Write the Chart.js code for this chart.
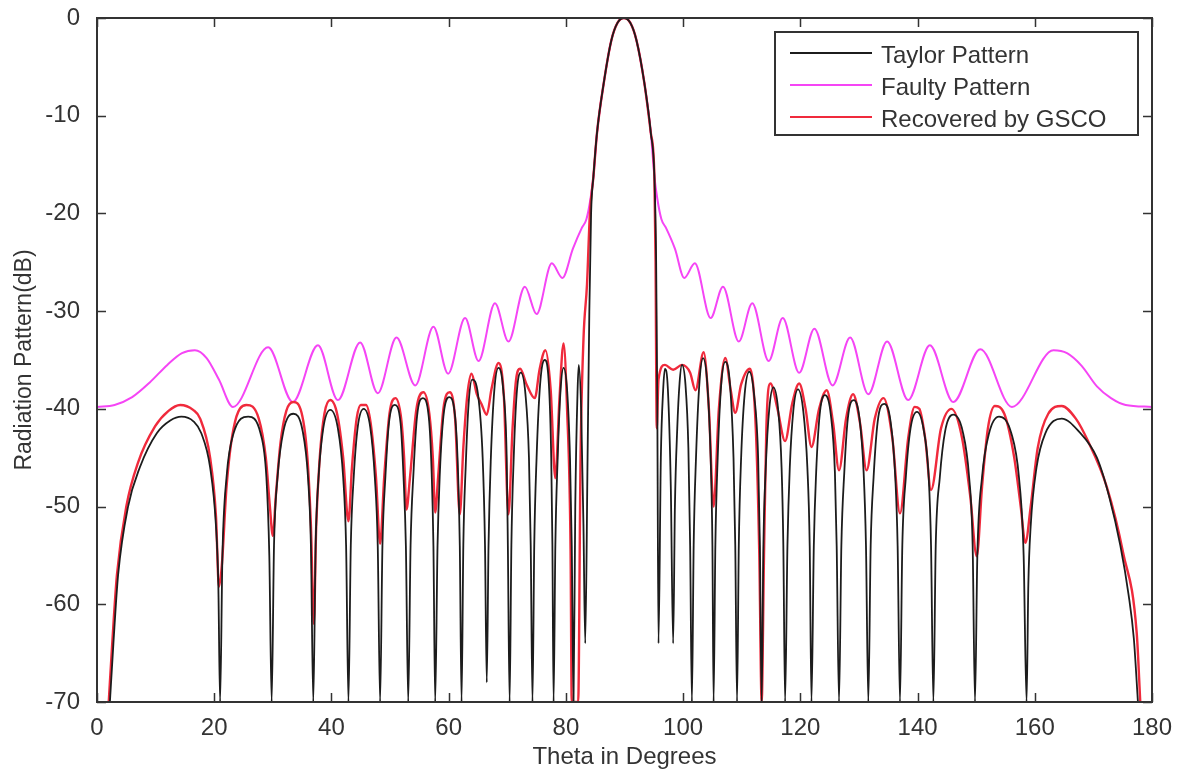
<!DOCTYPE html>
<html>
<head>
<meta charset="utf-8">
<title>Radiation Pattern</title>
<script src="https://cdn.jsdelivr.net/npm/chart.js@4.4.0/dist/chart.umd.min.js"></script>
<style>
    html, body { margin: 0; padding: 0; background: #fff; }
    #wrap { width: 1183px; height: 772px; }
</style>
</head>
<body>
<div id="wrap"><canvas id="patternChart" width="1183" height="772"></canvas></div>
<script>
// Datos (theta en grados, nivel en dB)
const taylorTheta = [
    2.2, 2.8, 3.6, 5.3, 7.3, 10.2, 12.5, 14.4, 16.5, 17.8, 19.3, 20.3, 20.7, 21.0,
    21.4, 22.1, 23.3, 25.8, 27.9, 28.9, 29.4, 29.8,
    30.2, 30.8, 31.8, 33.5, 35.1, 36.0, 36.5, 36.9,
    37.3, 37.8, 38.6, 39.8, 41.1, 42.0, 42.5, 42.9,
    43.3, 43.8, 44.5, 45.5, 46.6, 47.4, 47.9, 48.3,
    48.7, 49.2, 49.8, 50.8, 51.8, 52.3, 52.7, 53.1,
    53.5, 54.0, 54.6, 55.6, 56.6, 57.1, 57.4, 57.7,
    58.1, 58.5, 59.1, 60.1, 61.1, 61.6, 61.9, 62.2,
    62.5, 62.9, 63.4, 64.0, 65.0, 65.8, 66.2, 66.5,
    66.8, 67.2, 67.8, 68.5, 69.3, 69.9, 70.1, 70.4,
    70.7, 71.1, 71.6, 72.3, 73.1, 73.7, 74.0, 74.3,
    74.6, 75.0, 75.6, 76.4, 77.1, 77.5, 77.7, 77.9,
    78.2, 78.6, 79.1, 79.6, 80.2, 80.7, 81.0, 81.3,
    81.6, 82.0, 82.2, 82.6, 83.0, 83.3,
    83.7, 84.0, 84.3, 84.7, 85.3, 86.45, 87.75, 88.8, 89.9, 91.0, 92.05, 93.4, 94.5, 95.1, 95.4, 95.6, 95.8,
    96.2, 96.6, 96.9, 97.4, 97.9, 98.3,
    98.6, 99.0, 99.4, 99.8, 100.4, 100.9, 101.2, 101.5,
    101.8, 102.2, 102.8, 103.4, 104.1, 104.7, 105.0, 105.2,
    105.5, 105.9, 106.5, 107.2, 108.0, 108.6, 108.9, 109.2,
    109.5, 109.9, 110.5, 111.3, 112.1, 112.8, 113.1, 113.4,
    113.7, 114.1, 114.7, 115.4, 116.2, 116.8, 117.1, 117.4,
    117.8, 118.2, 118.8, 119.6, 120.5, 121.2, 121.6, 121.9,
    122.3, 122.7, 123.3, 124.2, 125.2, 125.9, 126.2, 126.6,
    127.0, 127.5, 128.1, 129.1, 130.1, 130.8, 131.2, 131.6,
    132.0, 132.5, 133.2, 134.3, 135.4, 136.2, 136.6, 137.0,
    137.4, 138.0, 138.8, 139.9, 141.0, 141.9, 142.3, 142.7,
    143.1, 143.8, 144.7, 146.1, 147.7, 148.8, 149.4, 149.8,
    150.2, 151.0, 152.2, 153.9, 156.0, 157.3, 158.1, 158.6,
    158.9, 159.3, 160.3, 161.8, 164.6, 167.5, 170.6, 172.7, 174.6, 176.0, 176.9, 177.6
];
const taylorDb = [
    -70, -64, -57, -50, -46, -42.5, -41.2, -40.8, -41.3, -42.5, -46, -52, -58, -70,
    -55, -47, -42.5, -40.8, -42.5, -47, -55, -70,
    -54, -47, -42.3, -40.5, -42.3, -47, -54, -70,
    -54, -47, -42, -40.1, -42, -47, -54, -70,
    -54, -47, -41.8, -40.0, -41.8, -47, -54, -70,
    -54, -47, -41.5, -39.6, -41.5, -47, -54, -70,
    -54, -46.5, -40.8, -38.9, -40.8, -46.5, -54, -70,
    -54, -46.5, -40.8, -38.8, -40.8, -46.5, -54, -70,
    -54, -46, -39.5, -37.0, -38.5, -45, -54, -68,
    -54, -45, -38, -35.8, -38, -45, -54, -70,
    -54, -45, -38.5, -36.3, -38.5, -45, -54, -70,
    -54, -45, -37.5, -35.0, -37.5, -45, -54, -70,
    -54, -45, -38, -35.8, -38, -45, -54, -70,
    -50, -38, -35.5, -40, -52, -64,
    -45, -30, -20, -16.2, -11.8, -6.7, -2.3, -0.5, 0, -0.5, -2.3, -6.7, -11.8, -16.2, -25, -40, -64,
    -45, -38, -35.9, -38, -48, -64,
    -50, -42, -37.3, -35.5, -37.5, -44, -54, -70,
    -54, -45, -37.2, -34.8, -37.2, -45, -54, -70,
    -54, -45, -37.5, -35.2, -37.5, -45, -54, -70,
    -54, -45, -38.5, -36.2, -38.5, -45, -54, -70,
    -54, -46, -40, -37.8, -40, -46, -54, -70,
    -54, -46, -40.2, -38.0, -40.2, -46, -54, -70,
    -54, -46.5, -40.6, -38.6, -40.6, -46.5, -54, -70,
    -54, -46.5, -41, -39.1, -41, -46.5, -54, -70,
    -54, -47, -41.3, -39.5, -41.3, -47, -54, -70,
    -54, -47, -42, -40.3, -42, -47, -54, -70,
    -54, -47, -42.3, -40.6, -42.3, -47, -54, -70,
    -55, -47, -42.5, -40.8, -42.5, -47, -55, -70,
    -58, -52, -46, -42.5, -41.0, -42.3, -45, -49, -54, -59, -63.5, -70
];

const faultyTheta = [
    0, 3, 6, 9, 12, 14.5, 16.7, 18.7, 20.8, 23.2, 29.2, 33.4, 37.7, 41.1, 44.9, 47.9,
    51.1, 54.3, 57.4, 59.9, 62.8, 65.1, 67.9, 70.2, 73.0, 75.0, 77.6, 79.4, 81.2, 82.7, 83.5, 84.2,
    84.7, 85.3, 86.45, 87.75, 88.8, 89.9, 91.0, 92.05, 93.4, 94.5, 95.1,
    95.6, 96.3, 97.1, 98.6, 100.2, 102.0, 104.7, 106.8, 109.5, 111.8, 114.6, 117.0, 119.8, 122.4,
    125.5, 128.5, 131.6, 134.8, 138.4, 142.1, 146.1, 150.7, 156.1, 163.2, 165.5, 168.0, 170.6, 173.0, 175.5, 180
];
const faultyDb = [
    -39.8, -39.6, -38.8, -37.3, -35.5, -34.3, -34.0, -34.8, -37.0, -39.8, -33.7, -39.3, -33.5, -39.1, -33.2, -38.4,
    -32.7, -37.6, -31.6, -36.4, -30.7, -35.1, -29.2, -33.1, -27.5, -30.3, -25.1, -26.6, -23.6, -21.5, -20.6, -18.5,
    -16.2, -11.8, -6.7, -2.3, -0.5, 0, -0.5, -2.3, -6.7, -11.8, -16.2,
    -18.5, -20.6, -21.5, -23.6, -26.6, -25.1, -30.7, -27.5, -33.1, -29.2, -35.1, -30.7, -36.3, -31.8,
    -37.6, -32.7, -38.5, -33.1, -39.1, -33.5, -39.3, -33.9, -39.8, -34.0, -34.3, -35.6, -37.7, -38.9, -39.6, -39.8
];

const recoveredTheta = [
    2.0, 2.6, 3.4, 5.0, 7.0, 9.9, 12.2, 14.2, 16.4, 17.6, 19.3, 20.3, 20.8,
    21.3, 22.1, 23.3, 25.5, 27.6, 28.8, 29.5, 30.0,
    30.5, 31.3, 32.3, 33.5, 34.9, 35.9, 36.5, 37.0,
    37.4, 38.0, 38.8, 39.8, 41.0, 42.0, 42.9,
    43.5, 44.3, 45.0, 45.9, 46.7, 47.6, 48.3,
    49.0, 49.9, 50.9, 51.9, 52.4, 52.8,
    53.4, 54.5, 55.7, 56.7, 57.3, 57.7,
    58.2, 59.1, 60.2, 61.1, 61.9,
    62.5, 63.2, 63.9, 64.8, 65.6, 66.5,
    67.3, 68.5, 69.4, 70.2,
    70.9, 71.5, 72.2, 73.3, 74.7,
    75.5, 76.5, 77.4, 78.2,
    78.9, 79.6, 80.2, 80.8, 81.0, 82.1, 82.5, 83.0, 83.6, 84.1,
    84.7, 85.3, 86.45, 87.75, 88.8, 89.9, 91.0, 92.05, 93.4, 94.5, 95.1,
    95.3, 95.5, 95.8, 96.9, 98.3, 99.8, 101.2, 102.1,
    103.5, 104.4, 105.2, 106.1, 107.2, 108.1, 108.9, 109.9, 111.4,
    112.4, 113.0, 113.4, 113.8, 114.2, 114.9, 116.1, 117.4,
    118.6, 119.8, 120.9, 121.9, 123.2, 124.5, 125.6, 126.6,
    127.8, 129.0, 130.2, 131.3, 132.7, 134.2, 135.7, 137.0,
    138.4, 139.5, 140.3, 141.3, 142.3, 144.0, 145.8, 147.6, 149.0, 150.1,
    151.0, 152.0, 153.2, 154.8, 156.5, 157.6, 158.4,
    159.3, 160.5, 162.3, 164.6, 167.0, 169.0, 172.3, 175.1, 177.4, 178.0
];
const recoveredDb = [
    -70, -64, -57, -50, -45.5, -41.8, -40.2, -39.6, -40.1, -41, -45, -51, -58.2,
    -56, -48, -42, -39.6, -41, -45, -50, -53,
    -49, -43.5, -40.2, -39.3, -40.4, -45, -52, -62,
    -52, -45, -40.5, -39.1, -40.6, -45, -51.5,
    -46, -41, -39.6, -39.6, -41.5, -47, -53.8,
    -47, -40.5, -38.9, -41, -45, -50.3,
    -47, -40, -38.3, -40.5, -45, -50.6,
    -47, -40, -38.3, -41, -50.8,
    -44, -38.5, -36.4, -38.5, -39.5, -40.6,
    -38, -35.3, -38.5, -50.8,
    -42, -37, -35.9, -37.5, -38.9,
    -36, -34.0, -38, -47.1,
    -39, -33.3, -40, -54.5, -70, -70, -45, -32.9, -27.3, -20,
    -16.2, -11.8, -6.7, -2.3, -0.5, 0, -0.5, -2.3, -6.7, -11.8, -16.2,
    -25, -42, -37, -35.5, -36, -35.5, -36.3, -38.1,
    -34.2, -40, -50, -40, -34.8, -38, -40.4, -37.5, -35.9,
    -42, -55, -70, -55, -42, -37.4, -40, -43.3,
    -39.5, -37.4, -40, -43.9, -40, -38.1, -41.5, -46.3,
    -41, -38.5, -41.5, -46.3, -41, -38.9, -43, -50.7,
    -43, -39.8, -40, -43, -48.3, -42, -40.0, -43, -49, -55.1,
    -48, -42, -39.7, -40.5, -45, -50, -53.7,
    -50, -44, -40.5, -39.7, -41, -43.2, -48, -54.8, -63, -70
];

const xTicks = [0, 20, 40, 60, 80, 100, 120, 140, 160, 180];
const yTicks = [0, -10, -20, -30, -40, -50, -60, -70];

const seriesLabels = ['Taylor Pattern', 'Faulty Pattern', 'Recovered by GSCO'];
const seriesColors = ['#1c1c1c', '#f545f5', '#f02a3c'];

const fontFamily = "'Liberation Sans', Arial, sans-serif";
const textColor = '#333333';

function toPoints(thetas, values) {
    return thetas.map((t, i) => ({ x: t, y: values[i] }));
}

// Marco y marcas de eje hacia adentro (estilo MATLAB)
const frameTicksPlugin = {
    id: 'frameTicks',
    afterDatasetsDraw(chart) {
        const { ctx, chartArea, scales } = chart;
        const { left, right, top, bottom } = chartArea;
        const len = 9;
        ctx.save();
        ctx.strokeStyle = '#333';
        ctx.lineWidth = 1.5;
        ctx.beginPath();
        xTicks.forEach(v => {
            const px = Math.round(scales.x.getPixelForValue(v)) + 0.5;
            ctx.moveTo(px, bottom); ctx.lineTo(px, bottom - len);
            ctx.moveTo(px, top); ctx.lineTo(px, top + len);
        });
        yTicks.forEach(v => {
            const py = Math.round(scales.y.getPixelForValue(v)) + 0.5;
            ctx.moveTo(left, py); ctx.lineTo(left + len, py);
            ctx.moveTo(right, py); ctx.lineTo(right - len, py);
        });
        ctx.stroke();
        ctx.lineWidth = 2;
        ctx.strokeRect(left, top, right - left, bottom - top);
        ctx.restore();
    }
};

// Leyenda dentro del área del gráfico, arriba a la derecha
const boxLegendPlugin = {
    id: 'boxLegend',
    afterDraw(chart) {
        const { ctx } = chart;
        const bx = 775, by = 32, bw = 363, bh = 103;
        ctx.save();
        ctx.fillStyle = '#ffffff';
        ctx.fillRect(bx, by, bw, bh);
        ctx.strokeStyle = '#333';
        ctx.lineWidth = 2;
        ctx.strokeRect(bx, by, bw, bh);
        ctx.font = '24px ' + fontFamily;
        ctx.textBaseline = 'middle';
        ctx.textAlign = 'left';
        const rows = [53, 85, 117];
        chart.data.datasets.forEach((ds, i) => {
            const y = rows[i];
            ctx.strokeStyle = ds.borderColor;
            ctx.lineWidth = 2;
            ctx.beginPath();
            ctx.moveTo(790, y);
            ctx.lineTo(872, y);
            ctx.stroke();
            ctx.fillStyle = textColor;
            ctx.fillText(ds.label, 881, y + 3);
        });
        ctx.restore();
    }
};

const ctx = document.getElementById('patternChart').getContext('2d');
new Chart(ctx, {
    type: 'line',
    data: {
        datasets: [
            {
                label: seriesLabels[0],
                data: toPoints(taylorTheta, taylorDb),
                borderColor: seriesColors[0],
                borderWidth: 1.8,
                order: 0
            },
            {
                label: seriesLabels[1],
                data: toPoints(faultyTheta, faultyDb),
                borderColor: seriesColors[1],
                borderWidth: 2,
                order: 2
            },
            {
                label: seriesLabels[2],
                data: toPoints(recoveredTheta, recoveredDb),
                borderColor: seriesColors[2],
                borderWidth: 2.4,
                order: 1
            }
        ]
    },
    options: {
        responsive: false,
        animation: false,
        devicePixelRatio: 1,
        elements: {
            point: { radius: 0 },
            line: { cubicInterpolationMode: 'monotone', fill: false }
        },
        layout: {
            padding: { top: 18, right: 31, left: 0, bottom: 0 }
        },
        scales: {
            x: {
                type: 'linear',
                min: 0,
                max: 180,
                grid: { display: false },
                border: { display: false },
                ticks: {
                    stepSize: 20,
                    padding: 4,
                    color: textColor,
                    font: { family: fontFamily, size: 24 }
                },
                title: {
                    display: true,
                    text: 'Theta in Degrees',
                    color: textColor,
                    font: { family: fontFamily, size: 24 },
                    padding: { top: 0, bottom: 0 }
                },
                afterFit(scale) {
                    scale.height = 70;
                    scale.paddingLeft = 0;
                    scale.paddingRight = 0;
                }
            },
            y: {
                type: 'linear',
                min: -70,
                max: 0,
                grid: { display: false },
                border: { display: false },
                ticks: {
                    stepSize: 10,
                    padding: 9,
                    color: textColor,
                    font: { family: fontFamily, size: 24 }
                },
                title: {
                    display: true,
                    text: 'Radiation Pattern(dB)',
                    color: textColor,
                    font: { family: fontFamily, size: 23 },
                    padding: { top: 11, bottom: 0 }
                },
                afterFit(scale) {
                    scale.width = 97;
                    scale.paddingTop = 0;
                    scale.paddingBottom = 0;
                }
            }
        },
        plugins: {
            legend: { display: false },
            tooltip: { enabled: false }
        }
    },
    plugins: [frameTicksPlugin, boxLegendPlugin]
});
</script>
</body>
</html>
